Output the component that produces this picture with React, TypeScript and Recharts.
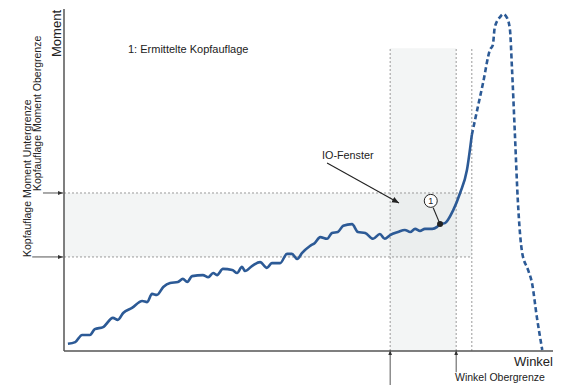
import { LineChart, Line, XAxis, YAxis, ReferenceArea, ReferenceLine, ReferenceDot, Label } from 'recharts';

const winkelGemessen = [
  0.8, 2.3, 3.7, 5.3, 6.3, 8.0, 10.0, 11.0, 12.1, 13.9, 16.0, 17.0, 18.0, 19.0, 20.3, 21.7,
  23.3, 24.3, 25.2, 26.2, 28.4, 29.5, 30.5, 31.3, 32.5, 34.4, 35.4, 36.4, 37.0, 38.5, 40.1,
  41.5, 42.5, 44.2, 45.6, 46.6, 47.7, 48.7, 50.3, 51.3, 52.4, 53.8, 54.8, 56.0, 57.1, 58.9,
  60.1, 61.6, 63.2, 64.6, 65.6, 66.7, 68.3, 69.7, 70.8, 71.8, 72.8, 73.8, 75.3, 76.3, 76.9,
  77.9, 79.6, 81.0, 82.4, 83.4,
];
const momentGemessen = [
  2.1, 2.6, 4.7, 4.7, 6.4, 7.0, 9.7, 9.1, 11.1, 12.6, 14.6, 14.3, 16.7, 16.4, 18.7, 19.9,
  20.2, 21.1, 20.2, 21.9, 22.2, 21.6, 22.8, 22.2, 24.0, 23.7, 22.8, 24.6, 23.4, 24.9, 26.0,
  24.3, 25.7, 25.7, 28.4, 28.4, 26.9, 28.7, 30.7, 31.6, 33.3, 32.8, 34.5, 34.8, 36.6, 37.1,
  34.8, 34.5, 32.8, 34.2, 32.8, 33.9, 34.8, 35.4, 34.8, 35.7, 35.1, 35.7, 35.7, 36.3, 37.1,
  37.4, 41.2, 46.2, 52.9, 63.2,
];
const winkelWeiter = [83.4, 84.5, 85.7, 87.1, 87.7, 88.1, 89.2, 89.8, 90.6, 91.2, 91.6, 92.2, 92.8, 93.7, 94.9, 95.7, 96.7, 97.8];
const momentWeiter = [63.2, 70.5, 78.4, 88.0, 89.5, 94.7, 97.7, 98.5, 97.4, 93.9, 83.0, 63.7, 44.2, 28.7, 23.7, 19.9, 9.9, 0.3];

const momentUntergrenze = 27.5;
const momentObergrenze = 46.2;
const winkelUntergrenze = 66.7;
const winkelObergrenze = 80.2;
const winkelRand = 83.4;
const fensterOben = 88.5;
const kopfauflage = { x: 76.9, y: 37.1 };
const markerKreis = { x: 75.0, y: 43.9 };

const gemessen = winkelGemessen.map((x, i) => ({ x, y: momentGemessen[i] }));
const weiter = winkelWeiter.map((x, i) => ({ x, y: momentWeiter[i] }));

const blau = '#2c5a96';
const grau = '#9a9a9a';
const font = '"Liberation Sans", Arial, sans-serif';

export default function App() {
  return (
    <div style={{ position: 'absolute', left: 0, top: 0, background: '#fff' }}>
      <LineChart width={576} height={385} margin={{ top: 9, right: 23, left: 0, bottom: 0 }}>
        <defs>
          <marker id="pfeil" markerWidth="8" markerHeight="8" refX="7" refY="4" orient="auto" markerUnits="userSpaceOnUse">
            <path d="M0,1 L7,4 L0,7 z" fill="#222" />
          </marker>
          <marker id="pfeilKlein" markerWidth="5" markerHeight="5" refX="5" refY="2.5" orient="auto" markerUnits="userSpaceOnUse">
            <path d="M0,0.5 L5,2.5 L0,4.5 z" fill="#333" />
          </marker>
        </defs>
        <XAxis
          type="number"
          dataKey="x"
          domain={[0, 100]}
          allowDataOverflow
          height={34}
          tick={false}
          tickLine={false}
          axisLine={{ stroke: '#555', strokeWidth: 1.5 }}
        />
        <YAxis
          type="number"
          dataKey="y"
          domain={[0, 100]}
          allowDataOverflow
          width={64}
          tick={false}
          tickLine={false}
          axisLine={{ stroke: '#555', strokeWidth: 1.5 }}
        />
        <ReferenceArea x1={0} x2={winkelRand} y1={momentUntergrenze} y2={momentObergrenze} fill="#dfe3e3" fillOpacity={0.36} stroke="none" />
        <ReferenceArea x1={winkelUntergrenze} x2={winkelObergrenze} y1={0} y2={fensterOben} fill="#dfe3e3" fillOpacity={0.36} stroke="none" />

        <ReferenceLine segment={[{ x: 0, y: momentUntergrenze }, { x: winkelRand, y: momentUntergrenze }]} stroke={grau} strokeDasharray="2 2" />
        <ReferenceLine segment={[{ x: 0, y: momentObergrenze }, { x: winkelRand, y: momentObergrenze }]} stroke={grau} strokeDasharray="2 2" />
        {[winkelUntergrenze, winkelObergrenze, winkelRand].map((w) => (
          <ReferenceLine key={w} segment={[{ x: w, y: 0 }, { x: w, y: fensterOben }]} stroke={grau} strokeDasharray="2 2" />
        ))}

        {/* Pfeile zu den Grenzen */}
        <ReferenceLine ifOverflow="visible" segment={[{ x: -6.5, y: momentUntergrenze }, { x: -0.2, y: momentUntergrenze }]} stroke="#555" markerEnd="url(#pfeilKlein)" />
        <ReferenceLine ifOverflow="visible" segment={[{ x: -4.3, y: momentObergrenze }, { x: -0.2, y: momentObergrenze }]} stroke="#555" markerEnd="url(#pfeilKlein)" />
        <ReferenceLine ifOverflow="visible" segment={[{ x: winkelUntergrenze, y: -10.5 }, { x: winkelUntergrenze, y: 0.2 }]} stroke="#555" markerEnd="url(#pfeilKlein)" />
        <ReferenceLine ifOverflow="visible" segment={[{ x: winkelObergrenze, y: -6.2 }, { x: winkelObergrenze, y: 0.2 }]} stroke="#555" markerEnd="url(#pfeilKlein)" />

        {/* IO-Fenster Pfeil */}
        <ReferenceLine segment={[{ x: 53.8, y: 55.0 }, { x: 68.5, y: 43.3 }]} stroke="#222" strokeWidth={1.1} markerEnd="url(#pfeil)" />
        <ReferenceLine segment={[{ x: 75.5, y: 41.9 }, { x: kopfauflage.x, y: kopfauflage.y }]} stroke="#222" strokeWidth={1.1} />

        <Line data={gemessen} dataKey="y" type="monotone" stroke={blau} strokeWidth={2.6} dot={false} isAnimationActive={false} />
        <Line data={weiter} dataKey="y" type="monotone" stroke={blau} strokeWidth={2.6} strokeDasharray="5 3" dot={false} isAnimationActive={false} />

        <ReferenceDot x={kopfauflage.x} y={kopfauflage.y} r={3} fill="#222" stroke="none" />
        <ReferenceDot x={markerKreis.x} y={markerKreis.y} r={6.5} fill="#fff" stroke="#222" strokeWidth={1}>
          <Label value="1" position="center" fontSize={9} fill="#222" fontFamily={font} />
        </ReferenceDot>

        <text x={128} y={53} fontSize={11} fill="#222" fontFamily={font}>1: Ermittelte Kopfauflage</text>
        <text x={322} y={159} fontSize={10.8} fill="#222" fontFamily={font}>IO-Fenster</text>
        <text transform="translate(61,10) rotate(-90)" textAnchor="end" fontSize={13} fill="#222" fontFamily={font}>Moment</text>
        <text transform="translate(41,191) rotate(-90)" textAnchor="start" fontSize={10.5} fill="#222" fontFamily={font}>Kopfauflage Moment Obergrenze</text>
        <text transform="translate(31,257) rotate(-90)" textAnchor="start" fontSize={10.5} fill="#222" fontFamily={font}>Kopfauflage Moment Untergrenze</text>
        <text x={553} y={366} textAnchor="end" fontSize={13} fill="#222" fontFamily={font}>Winkel</text>
        <text x={455} y={381} fontSize={10.5} fill="#222" fontFamily={font}>Winkel Obergrenze</text>
      </LineChart>
    </div>
  );
}
